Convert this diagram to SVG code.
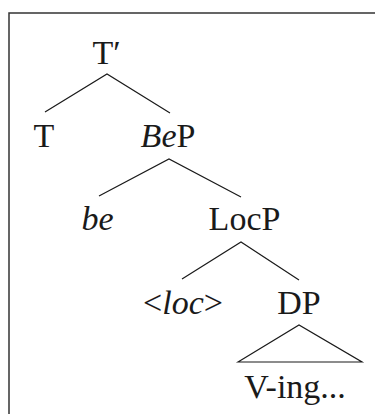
<svg xmlns="http://www.w3.org/2000/svg" width="375" height="414" viewBox="0 0 375 414">
<style>
.t{font-family:"Liberation Serif","Times New Roman",serif;font-size:34px;fill:#1a1a1a;text-anchor:middle}
.i{font-style:italic}
.e{stroke:#1a1a1a;stroke-width:1.2;fill:none}
</style>
<rect width="375" height="414" fill="#fff"/>
<path d="M375,13 H9 V414" fill="none" stroke="#333" stroke-width="1.5"/>
<g id="connectors">
<path class="e" d="M45,112 L107,74 L170,113"/>
<path class="e" d="M99,196 L169,159 L241,197"/>
<path class="e" d="M182,279 L241,242 L299,280"/>
<path class="e" d="M238,362 L299,325 L362,362 Z"/>
</g>
<g id="Tbar"><text class="t" x="106.5" y="64">T′</text></g>
<g id="T"><text class="t" x="44" y="147">T</text></g>
<g id="BeP"><text class="t" x="168" y="147"><tspan class="i">Be</tspan>P</text></g>
<g id="be"><text class="t i" x="97.5" y="230">be</text></g>
<g id="LocP"><text class="t" x="244.5" y="229.5">LocP</text></g>
<g id="loc"><text class="t" x="183" y="314">&lt;<tspan class="i">loc</tspan>&gt;</text></g>
<g id="DP"><text class="t" x="299" y="314">DP</text></g>
<g id="Ving"><text class="t" x="295" y="398">V-ing...</text></g>
</svg>
